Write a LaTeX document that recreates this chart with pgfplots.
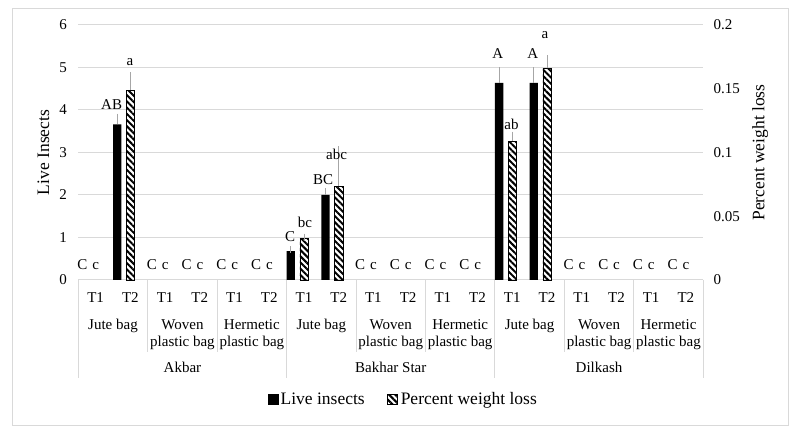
\documentclass[border=0pt]{standalone}
\usepackage{pgfplots}
\pgfplotsset{compat=1.18}
\usepackage{pgfplotstable}
\usepackage{fontspec}
\setmainfont{Liberation Serif}
\usetikzlibrary{patterns.meta}
\definecolor{gridc}{HTML}{D9D9D9}
\definecolor{errc}{HTML}{A6A6A6}

% category index: 0..17 (Variety x Bag x Treatment)
\pgfplotstableread{
x live err
0  0    0
1  3.66 0.17
2  0    0
3  0    0
4  0    0
5  0    0
6  0.68 0.03
7  2.00 0.08
8  0    0
9  0    0
10 0    0
11 0    0
12 4.64 0.26
13 4.64 0.26
14 0    0
15 0    0
16 0    0
17 0    0
}\livedata

\pgfplotstableread{
x wl err
0  0      0
1  0.149  0.0077
2  0      0
3  0      0
4  0      0
5  0      0
6  0.0327 0.001
7  0.0737 0.0033
8  0      0
9  0      0
10 0      0
11 0      0
12 0.109  0.0047
13 0.166  0.0067
14 0      0
15 0      0
16 0      0
17 0      0
}\wldata

\newcommand{\tickfont}{\fontsize{15bp}{17bp}\selectfont}
\newcommand{\titlefont}{\fontsize{17.5bp}{20bp}\selectfont}

\begin{document}
\begin{tikzpicture}[x=1bp,y=1bp]
\path[use as bounding box] (0,0) rectangle (796,435);
\draw[gridc, line width=1bp] (12,9) rectangle (788,426);

\begin{axis}[
  at={(78.3bp,155bp)}, anchor=south west,
  scale only axis, width=624.9bp, height=255bp,
  xmin=-0.5, xmax=17.5, ymin=0, ymax=6,
  clip=false,
  axis line style={draw=none}, tick style={draw=none},
  ymajorgrids, major grid style={gridc, line width=1bp},
  ytick={0,1,2,3,4,5,6},
  yticklabel style={font=\tickfont, xshift=-8bp},
  /pgf/number format/assume math mode=true,
  xtick={0,...,17},
  xticklabels={T1,T2,T1,T2,T1,T2,T1,T2,T1,T2,T1,T2,T1,T2,T1,T2,T1,T2},
  xticklabel style={font=\tickfont, anchor=base, yshift=-23bp},
  ylabel={Live Insects},
  ylabel style={font=\titlefont, at={(axis description cs:-0.056,0.5)}, anchor=center},
  legend columns=2,
  legend style={draw=none, fill=none, font=\titlefont,
    at={(axis description cs:0.52,-0.467)}, anchor=center,
    /tikz/every even column/.append style={column sep=20bp},
    nodes={inner sep=2bp}},
]
\addplot[ybar, bar width=0.24, bar shift=0pt, fill=black, draw=none,
  restrict y to domain=0.001:100,
  legend image code/.code={\fill[black] (0bp,-5.5bp) rectangle (11bp,5.5bp);},
  error bars/.cd, y dir=plus, y explicit,
  error bar style={errc, line width=1bp},
  error mark options={errc, mark size=3.5bp, line width=1bp}]
  table[x expr=\thisrow{x}-0.379, y=live, y error=err] {\livedata};
\addlegendentry{Live insects}
\addlegendimage{legend image code/.code={\draw[black, line width=0.8bp,
   pattern={Lines[angle=-45,distance=4.4bp,line width=2bp]}]
   (0bp,-5bp) rectangle (10bp,5bp);}}
\addlegendentry{Percent weight loss}

% leader lines of data labels
\draw[errc, line width=1bp] (axis cs:1.004,4.70) -- (axis cs:1.004,4.90);
\draw[errc, line width=1bp] (axis cs:7.004,2.31) -- (axis cs:7.004,3.15);
\draw[errc, line width=1bp] (axis cs:11.621,4.90) -- (axis cs:11.621,5.02);
\draw[errc, line width=1bp] (axis cs:12.621,4.90) -- (axis cs:12.621,5.02);
\draw[errc, line width=1bp] (axis cs:13.004,5.18) -- (axis cs:13.004,5.29);

% significance letters
\begin{scope}[every node/.style={font=\tickfont, anchor=base, inner sep=0pt}]
\node at (axis cs:0.46,4.02) {AB};
\node at (axis cs:0.99,5.04) {a};
\node at (axis cs:5.60,0.90) {C};
\node at (axis cs:6.03,1.24) {bc};
\node at (axis cs:6.55,2.24) {BC};
\node at (axis cs:6.94,2.84) {abc};
\node at (axis cs:11.58,5.20) {A};
\node at (axis cs:11.98,3.55) {ab};
\node at (axis cs:12.59,5.20) {A};
\node at (axis cs:12.94,5.69) {a};
\pgfplotsinvokeforeach{-0.379,1.621,2.621,3.621,4.621,7.621,8.621,9.621,10.621,13.621,14.621,15.621,16.621}{
  \node at (axis cs:#1,0.25) {C};}
\pgfplotsinvokeforeach{0.004,2.004,3.004,4.004,5.004,8.004,9.004,10.004,11.004,14.004,15.004,16.004,17.004}{
  \node at (axis cs:#1,0.25) {c};}
\end{scope}

% multi-level category separators
\pgfplotsinvokeforeach{1.5,3.5,7.5,9.5,13.5,15.5}{
  \draw[gridc, line width=1bp] (axis cs:#1,0) -- ++(0bp,-72bp);}
\pgfplotsinvokeforeach{-0.5,5.5,11.5,17.5}{
  \draw[gridc, line width=1bp] (axis cs:#1,0) -- ++(0bp,-98bp);}

% bag labels
\begin{scope}[every node/.style={font=\tickfont, anchor=base, inner sep=0pt}]
\pgfplotsinvokeforeach{0.5,6.5,12.5}{
  \path (axis cs:#1,0) ++(0bp,-50bp) node {Jute bag};}
\pgfplotsinvokeforeach{2.5,8.5,14.5}{
  \path (axis cs:#1,0) ++(0bp,-50bp) node {Woven};
  \path (axis cs:#1,0) ++(0bp,-67bp) node {plastic bag};}
\pgfplotsinvokeforeach{4.5,10.5,16.5}{
  \path (axis cs:#1,0) ++(0bp,-50bp) node {Hermetic};
  \path (axis cs:#1,0) ++(0bp,-67bp) node {plastic bag};}
\path (axis cs:2.5,0) ++(0bp,-93bp) node {Akbar};
\path (axis cs:8.5,0) ++(0bp,-93bp) node {Bakhar Star};
\path (axis cs:14.5,0) ++(0bp,-93bp) node {Dilkash};
\end{scope}
\end{axis}

\begin{axis}[
  at={(78.3bp,155bp)}, anchor=south west,
  scale only axis, width=624.9bp, height=255bp,
  xmin=-0.5, xmax=17.5, ymin=0, ymax=0.2,
  clip=false,
  hide x axis,
  axis y line*=right,
  axis line style={draw=none}, tick style={draw=none},
  ytick={0,0.05,0.1,0.15,0.2},
  scaled y ticks=false,
  yticklabel style={font=\tickfont, xshift=7bp, /pgf/number format/fixed},
  /pgf/number format/assume math mode=true,
  ylabel={Percent weight loss},
  ylabel style={font=\titlefont, at={(axis description cs:1.091,0.5)}, anchor=center, rotate=0},
]
\addplot[ybar, bar width=0.24, bar shift=0pt, draw=black, line width=0.8bp,
  pattern={Lines[angle=-45,distance=4.4bp,line width=2bp]},
  restrict y to domain=0.0001:100,
  error bars/.cd, y dir=plus, y explicit,
  error bar style={errc, line width=1bp},
  error mark options={errc, mark size=3.5bp, line width=1bp}]
  table[x expr=\thisrow{x}+0.004, y=wl, y error=err] {\wldata};
\end{axis}
\end{tikzpicture}
\end{document}
